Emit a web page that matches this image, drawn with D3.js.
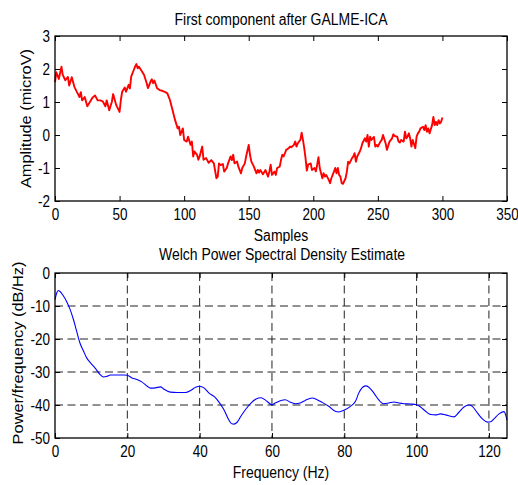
<!DOCTYPE html>
<html>
<head>
<meta charset="utf-8">
<script src="https://cdn.jsdelivr.net/npm/d3@7"></script>
<style>
  body { margin: 0; background: #fff; }
  svg { display: block; }
  text { font-family: Arial, "Liberation Sans", Helvetica, sans-serif; fill: #000; }
</style>
</head>
<body>
<svg id="fig"></svg>
<script>
// --- data ---
const sampleIndex = [0,1,3,5,6,8,10,11,13,15,17,19,20,21,23,25,27,29,31,33,35,37,39,40,42,44,45,47,48,50,
  51,52,54,55,57,58,59,61,62,63,64,65,67,69,71,72,74,75,76,77,79,81,83,85,87,89,91,93,95,96,
  97,99,100,102,103,105,106,107,108,110,111,112,114,115,117,119,121,123,125,126,127,128,130,131,133,134,136,137,138,139,
  141,142,144,145,147,148,150,151,152,154,156,157,158,159,161,163,164,165,166,167,168,170,171,172,174,175,176,177,178,179,
  181,182,183,185,186,187,188,190,191,192,193,194,195,196,198,199,201,202,203,204,205,207,208,209,210,212,213,214,216,217,
  218,219,220,221,222,223,225,226,227,228,230,231,232,233,234,236,237,238,240,241,242,243,244,245,247,248,249,250,252,253,
  254,256,257,258,259,261,262,263,265,266,267,268,270,271,272,273,274,275,276,277,279,280,281,282,283,285,286,287,288,289,
  290,292,293,294,295,296,297,298,299,300];
const amplitude = [1.6,1.9,1.7,2.07,1.82,1.66,1.76,1.5,1.75,1.46,1.3,1.15,1.3,1.05,1.15,0.87,1.0,1.13,1.2,1.05,1.05,1.02,0.87,1.05,0.75,1.0,1.24,0.96,0.86,0.7,
  1.06,1.31,1.44,1.31,1.52,1.41,1.77,1.97,2.07,2.15,2.02,2.07,1.95,1.82,1.57,1.42,1.62,1.69,1.57,1.65,1.42,1.36,1.34,1.31,1.26,1.06,0.76,0.45,0.2,0.25,
  0.0,0.2,-0.15,-0.2,-0.05,-0.3,-0.2,-0.65,-0.5,-0.6,-0.75,-0.65,-0.35,-0.75,-0.7,-0.84,-0.76,-0.86,-1.31,-1.26,-0.86,-0.91,-0.88,-1.11,-1.0,-0.86,-0.65,-0.76,-0.6,-0.86,
  -0.8,-0.96,-1.16,-1.0,-0.86,-0.65,-0.3,-0.6,-0.8,-0.96,-1.16,-1.06,-1.14,-1.06,-1.19,-1.06,-1.16,-1.26,-1.11,-0.9,-1.21,-1.11,-1.21,-1.0,-0.96,-0.76,-0.6,-0.65,-0.56,-0.45,
  -0.4,-0.35,-0.37,-0.3,-0.2,-0.35,-0.25,-0.15,0.07,-0.15,-0.4,-0.7,-1.08,-0.9,-0.86,-1.06,-1.0,-1.1,-0.9,-0.67,-1.0,-1.31,-1.16,-1.26,-1.21,-1.36,-1.46,-1.31,-1.11,-1.0,
  -1.16,-1.0,-1.21,-1.26,-1.46,-1.48,-1.31,-1.11,-0.81,-0.86,-0.7,-0.65,-0.55,-0.81,-0.65,-0.5,-0.4,-0.25,-0.1,-0.2,0.0,-0.35,-0.05,-0.15,-0.06,-0.35,-0.3,-0.35,-0.2,-0.15,
  0.0,-0.25,-0.45,-0.33,-0.2,-0.1,0.02,-0.03,-0.05,-0.2,-0.23,-0.15,-0.2,0.1,-0.1,-0.05,0.05,-0.1,-0.35,-0.15,-0.4,-0.05,0.05,0.1,0.2,0.25,0.15,0.3,0.1,0.2,
  0.05,0.3,0.55,0.3,0.4,0.3,0.45,0.35,0.4,0.53];

const freqHz = [0,0.5,0.9,1.4,2.3,3.2,4.2,5.1,6,6.9,7.9,8.8,9.7,11.1,12.5,13.4,14.4,15.3,17.1,19,20,21.3,22.7,24,25.5,26.4,27.8,29.2,30.1,31.9,
  33.8,36.1,37.5,38.9,40,41.2,42.6,44,45.4,46.8,48,48.9,49.5,50.3,51.4,52.8,54.2,55.6,57,58.3,60,60.9,62.3,63.7,65.1,66.5,67.8,69.2,71.1,72.5,
  73.9,75.7,77.5,78.5,79.9,81.7,83.1,84,84.9,85.9,86.8,88.2,89.5,90.9,92.3,93.7,95.1,96.5,98.3,100,101.1,102.5,103.9,105.2,106.6,108,109.4,110.3,111.7,113.1,
  114.5,115.4,116.8,118.2,119.6,120.5,121.4,122.8,124.2,124.6,125];
const psdDb = [-8.1,-6,-5.3,-5.6,-6.9,-8.6,-11.1,-14.1,-17.7,-21.2,-23.7,-25.8,-27.1,-28.8,-30.8,-31.5,-31.3,-30.9,-30.9,-30.9,-31,-31.8,-32.3,-33,-34.3,-34.9,-34.8,-34.5,-35.2,-36.1,
  -36.2,-36.2,-35.6,-34.6,-34.3,-34.8,-36.4,-37.4,-39.2,-41.6,-44.4,-45.7,-45.8,-45.3,-43.4,-41.2,-39.4,-38.2,-37.8,-38.6,-39.9,-39.4,-38.7,-38.4,-39.2,-39.6,-39.4,-38.6,-37.9,-38.4,
  -39.2,-40.4,-41.9,-42.1,-41.6,-40.4,-38.9,-36.4,-34.8,-34.2,-34.6,-36.4,-38.4,-39.6,-39.4,-39.1,-39.4,-39.6,-39.7,-39.9,-40.6,-41.9,-42.9,-43,-42.7,-43,-43.4,-43.6,-42.2,-40.6,
  -40,-40.4,-42.4,-44.2,-45.2,-45.1,-44.2,-42.7,-42,-42.9,-44.6];

const sampleTicks = [0,50,100,150,200,250,300,350];
const ampTicks = [-2,-1,0,1,2,3];
const freqTicks = [0,20,40,60,80,100,120];
const dbTicks = [-50,-40,-30,-20,-10,0];

// --- layout ---
const W = 518, H = 485;
const SY = 1.17;              // the source raster is stretched vertically
const left = 55, right = 507;
const top1 = 36, bot1 = 201;
const top2 = 273, bot2 = 438;

const svg = d3.select('#fig').attr('width', W).attr('height', H);

function addText(x, y, str, size, rot) {
  svg.append('text')
    .attr('transform', `translate(${x},${y}) scale(1,${SY})` + (rot ? ` rotate(${rot})` : ''))
    .attr('text-anchor', 'middle')
    .style('font-size', size + 'px')
    .text(str);
}

// plain hyphen minus, no decimals (matlab style)
const fmt = d => String(d);

function drawAxes(g, x, y, xt, yt, h) {
  const w = right - left;
  g.append('g').attr('transform', `translate(0,${h})`)
    .call(d3.axisBottom(x).tickValues(xt).tickFormat(fmt).tickSizeInner(-5).tickSizeOuter(0).tickPadding(7));
  g.append('g')
    .call(d3.axisLeft(y).tickValues(yt).tickFormat(fmt).tickSizeInner(-5).tickSizeOuter(0).tickPadding(5));
  g.append('g')
    .call(d3.axisTop(x).tickValues(xt).tickSizeInner(-5).tickSizeOuter(0).tickFormat(''));
  g.append('g').attr('transform', `translate(${w},0)`)
    .call(d3.axisRight(y).tickValues(yt).tickSizeInner(-5).tickSizeOuter(0).tickFormat(''));
  g.selectAll('.domain').remove();
  g.selectAll('.tick line').attr('stroke', '#000').attr('stroke-width', 1);
  g.selectAll('.tick text')
    .style('font-size', '13.5px')
    .style('font-family', 'Arial, "Liberation Sans", sans-serif')
    .attr('fill', '#000')
    .attr('transform', `scale(1,${SY})`);
  g.append('rect')
    .attr('width', w).attr('height', h)
    .attr('fill', 'none').attr('stroke', '#000').attr('stroke-width', 1.3);
}

// --- top: first component ---
const h1 = bot1 - top1;
const x1 = d3.scaleLinear().domain([0, 350]).range([0, right - left]);
const y1 = d3.scaleLinear().domain([-2, 3]).range([h1, 0]);
const g1 = svg.append('g').attr('transform', `translate(${left},${top1})`);

g1.append('path')
  .datum(sampleIndex.map((s, i) => [s, amplitude[i]]))
  .attr('fill', 'none')
  .attr('stroke', '#ff0000')
  .attr('stroke-width', 1.9)
  .attr('stroke-linejoin', 'round')
  .attr('d', d3.line().x(d => x1(d[0])).y(d => y1(d[1])));

drawAxes(g1, x1, y1, sampleTicks, ampTicks, h1);

// --- bottom: Welch PSD ---
const h2 = bot2 - top2;
const x2 = d3.scaleLinear().domain([0, 125]).range([0, right - left]);
const y2 = d3.scaleLinear().domain([-50, 0]).range([h2, 0]);
const g2 = svg.append('g').attr('transform', `translate(${left},${top2})`);

// dashed grid
g2.selectAll('.vgrid').data(freqTicks.filter(d => d > 0)).enter()
  .append('line')
  .attr('x1', d => x2(d)).attr('x2', d => x2(d))
  .attr('y1', 0).attr('y2', h2)
  .attr('stroke', '#222').attr('stroke-dasharray', '8,4.5');
g2.selectAll('.hgrid').data(dbTicks.filter(d => d > -50 && d < 0)).enter()
  .append('line')
  .attr('x1', 0).attr('x2', right - left)
  .attr('y1', d => y2(d)).attr('y2', d => y2(d))
  .attr('stroke', '#222').attr('stroke-dasharray', '8,4.5');

g2.append('path')
  .datum(freqHz.map((f, i) => [f, psdDb[i]]))
  .attr('fill', 'none')
  .attr('stroke', '#0000ff')
  .attr('stroke-width', 1.1)
  .attr('d', d3.line().curve(d3.curveMonotoneX).x(d => x2(d[0])).y(d => y2(d[1])));

drawAxes(g2, x2, y2, freqTicks, dbTicks, h2);

// --- titles and labels ---
addText(281, 25, 'First component after GALME-ICA', 14);
addText(281, 241, 'Samples', 14);
addText(282, 260, 'Welch Power Spectral Density Estimate', 14);
addText(281, 478, 'Frequency (Hz)', 14);
addText(31, 118.5, 'Amplitude (microV)', 14, -90);
addText(23, 353, 'Power/frequency (dB/Hz)', 14, -90);
</script>
</body>
</html>
